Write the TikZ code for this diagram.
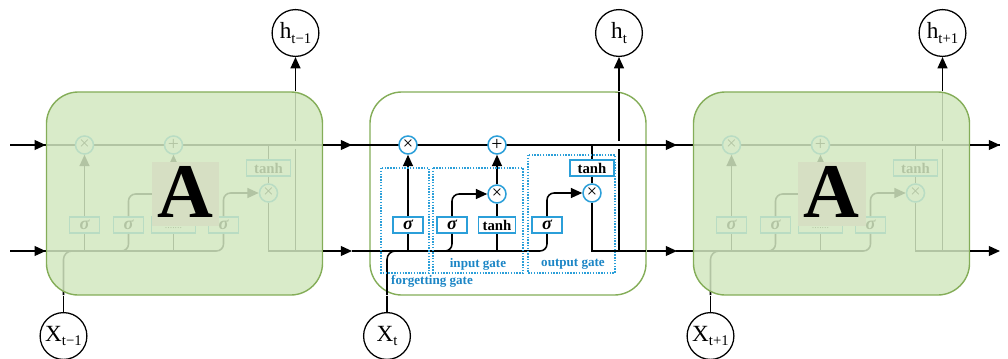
\documentclass[tikz,border=0pt]{standalone}
\usepackage{fontspec}
\setmainfont{Liberation Serif}
\usetikzlibrary{arrows.meta}
\definecolor{gbord}{HTML}{84AD58}
\definecolor{gfill}{HTML}{D2E7C0}
\definecolor{gpatch}{HTML}{D6DFC3}
\definecolor{bl}{HTML}{2B9FD9}
\definecolor{bltxt}{HTML}{1C86C6}
\newcommand{\opx}{\fontsize{13}{13}\selectfont ×}
\newcommand{\opp}{\fontsize{14}{14}\selectfont +}
\newcommand{\sig}{\fontsize{13}{13}\selectfont\bfseries\itshape σ}
\newcommand{\tnh}{\fontsize{10.5}{11}\selectfont\bfseries tanh}
\newcommand{\dotstxt}{\raisebox{-4.5pt}{\fontsize{7}{7}\selectfont .......}}
\newcommand{\iolbl}[2]{\fontsize{16.5}{16.5}\selectfont #1\raisebox{-0.45ex}{\fontsize{10.5}{11}\selectfont #2}}
\tikzset{
 ln/.style={line width=1.1pt, draw=black},
 arr/.style={ln, -{Triangle[length=8pt,width=7pt]}},
 opc/.style={circle, draw=bl, line width=1.1pt, fill=white, minimum size=0.45cm, inner sep=0pt},
 gbx/.style={rectangle, draw=bl, line width=1.1pt, fill=white, minimum height=0.4cm, inner sep=0pt},
 sbx/.style={gbx, minimum width=0.75cm},
 iocirc/.style={circle, draw=black, line width=0.9pt, fill=white, minimum size=1.17cm, inner sep=0pt},
 gatebox/.style={draw=bl, line width=1pt, densely dotted},
 gatelbl/.style={text=bltxt, font=\fontsize{9.3}{10}\selectfont\bfseries, inner sep=0pt},
 cellbox/.style={rectangle, rounded corners=0.8cm, line width=1pt, draw=gbord, minimum width=6.9cm, minimum height=5.075cm},
 fadecell/.style={cellbox, fill=gfill, fill opacity=0.85},
 bigA/.style={font=\fontsize{55}{55}\selectfont\bfseries, inner sep=0pt},
 patch/.style={fill=gpatch, minimum width=1.675cm, minimum height=1.6cm, inner sep=0pt},
}
\newcommand{\lstminner}[4]{%
\begin{scope}[shift={(#2,0)}]
 \node[opc] (#1fx) at (408,145) {\opx};
 \node[opc] (#1px) at (497,145) {\opp};
 \node[sbx] (#1fs) at (408,225) {\sig};
 \node[sbx] (#1is) at (452,225) {\sig};
 \node[gbx, minimum width=#4] (#1it) at (497,225) {#3};
 \node[opc] (#1ix) at (497,194) {\opx};
 \node[sbx] (#1os) at (547,225) {\sig};
 \node[gbx, minimum width=1.1cm] (#1ot) at (592,168) {\tnh};
 \node[opc] (#1ox) at (592,193) {\opx};
 \coordinate (#1hin) at (352,251);
 \coordinate (#1hmg) at (428,251);
 \coordinate (#1st) at (592,145);
 \coordinate (#1hend) at (646,251);
 \coordinate (#1hva) at (619,251);
 \coordinate (#1hvb) at (619,149);
 \coordinate (#1hvc) at (619,141);
 \coordinate (#1hvd) at (619,92);
 \coordinate (#1xa) at (387,295);
 \coordinate (#1xb) at (414,251);
 \draw[ln, rounded corners=5pt] (#1hin) -| (#1os.south);
 \draw[ln, rounded corners=5pt] (#1hmg) -| (#1is.south);
 \draw[ln] (#1fs.south |- #1hin) -- (#1fs.south);
 \draw[ln] (#1it.south |- #1hin) -- (#1it.south);
 \draw[arr] (#1fs) -- (#1fx);
 \draw[arr, rounded corners=5pt] (#1is.north) |- (#1ix.west);
 \draw[ln] (#1it) -- (#1ix);
 \draw[arr] (#1ix) -- (#1px);
 \draw[arr, rounded corners=5pt] (#1os.north) |- (#1ox.west);
 \draw[ln] (#1st) -- (#1ot);
 \draw[ln] (#1ot) -- (#1ox);
 \draw[ln] (#1ox) |- (#1hend);
 \draw[ln] (#1hva) -- (#1hvb);
 \draw[ln] (#1hvc) -- (#1hvd);
 \draw[ln, rounded corners=6pt] (#1xa) |- (#1xb);
\end{scope}}
\begin{document}
\begin{tikzpicture}[x=0.025cm, y=-0.025cm]
\useasboundingbox (0,0) rectangle (1008,358);
% middle cell background
\node[cellbox, fill=white] (cM) at (508,193.5) {};
% cell state line
\coordinate (sIn) at (10,145);
\coordinate (hIn) at (10,251);
\coordinate (sEnd) at (1000,145);
\draw[ln] (sIn) -- (sEnd);
% internals
\lstminner{L}{-323.5}{\dotstxt}{1.1cm}
\lstminner{M}{0}{\tnh}{0.925cm}
\lstminner{R}{323.5}{\dotstxt}{1.1cm}
% gates of the middle cell
\draw[gatebox] (381,168) rectangle (429,273);
\draw[gatebox] (433,168) rectangle (523,273);
\draw[gatebox] (528,155) rectangle (615,273);
\node[gatelbl] (lf) at (432,281) {forgetting gate};
\node[gatelbl] (li) at (478,264) {input gate};
\node[gatelbl] (lo) at (573,264) {output gate};
% faded cells
\node[fadecell] (cL) at (184.5,193.5) {};
\node[fadecell] (cR) at (831.5,193.5) {};
\node[patch] (pL) at (185.5,194) {};
\node[patch] (pR) at (832,194) {};
\node[bigA] (AL) at (185,191.5) {A};
\node[bigA] (AR) at (831.5,192) {A};
% inputs and outputs
\node[iocirc] (hL) at (295.5,33) {\iolbl{h}{t−1}};
\node[iocirc] (hM) at (619,33) {\iolbl{h}{t}};
\node[iocirc] (hR) at (942.5,33) {\iolbl{h}{t+1}};
\node[iocirc] (XL) at (63.5,336) {\iolbl{X}{t−1}};
\node[iocirc] (XM) at (387,336) {\iolbl{X}{t}};
\node[iocirc] (XR) at (710.5,336) {\iolbl{X}{t+1}};
\coordinate (tipM) at (352,251);
\coordinate (tipR) at (677,251);
\coordinate (tipE) at (1000,251);
\draw[arr] (sIn) -- (sIn -| cL.west);
\draw[arr] (hIn) -- (hIn -| cL.west);
\draw[arr] (sIn -| cL.east) -- (sIn -| tipM);
\draw[arr] (hIn -| cL.east) -- (tipM);
\draw[arr] (sIn -| cM.east) -- (sIn -| tipR);
\draw[arr] (hIn -| cM.east) -- (tipR);
\draw[arr] (sIn -| cR.east) -- (sIn -| tipE);
\draw[arr] (hIn -| cR.east) -- (tipE);
\draw[arr] (hL |- cL.north) -- (hL);
\draw[arr] (hM |- cM.north) -- (hM);
\draw[arr] (hR |- cR.north) -- (hR);
\draw[ln] (XL) -- (XL |- cL.south);
\draw[ln] (XM) -- (XM |- cM.south);
\draw[ln] (XR) -- (XR |- cR.south);
\end{tikzpicture}
\end{document}
